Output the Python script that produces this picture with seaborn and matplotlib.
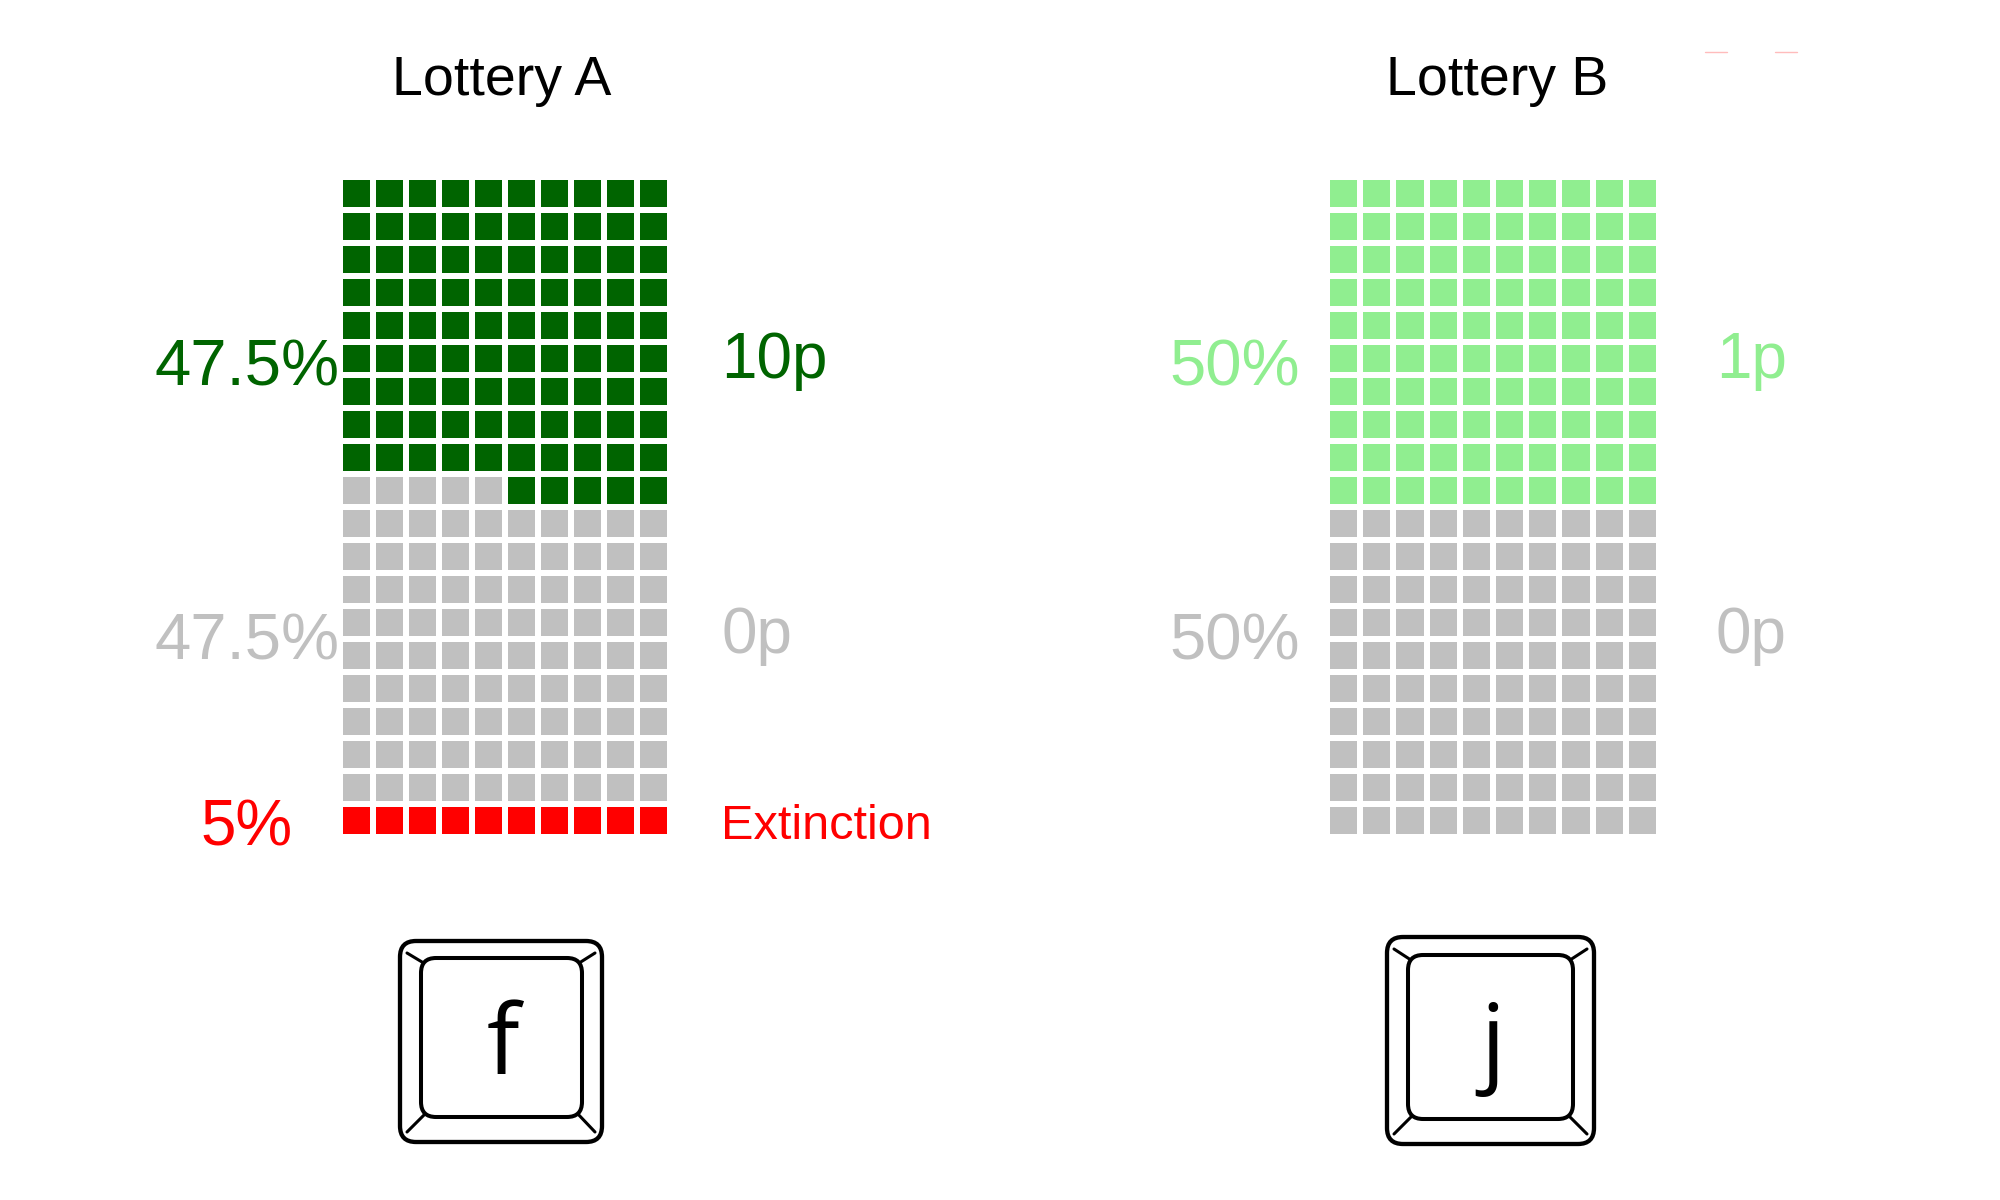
import numpy as np
import matplotlib
matplotlib.use("Agg")
import matplotlib.pyplot as plt
from matplotlib.colors import ListedColormap
from matplotlib.patches import FancyBboxPatch
import seaborn as sns

# ---------------- data ----------------
lottery_titles = ["Lottery A", "Lottery B"]
key_letters = ["f", "j"]

a_probs = ["47.5%", "47.5%", "5%"]
a_outcomes = ["10p", "0p", "Extinction"]
a_counts = [95, 95, 10]
a_colors = ["#006400", "#C0C0C0", "#FF0000"]

b_probs = ["50%", "50%"]
b_outcomes = ["1p", "0p"]
b_counts = [100, 100]
b_colors = ["#90EE90", "#C0C0C0"]

N_ROWS, N_COLS = 20, 10

# ---------------- setup ----------------
sns.set_theme(style="white")
plt.rcParams["font.family"] = ["Liberation Sans", "DejaVu Sans"]

W, H = 2000, 1200
fig = plt.figure(figsize=(20, 12), dpi=100)
fig.patch.set_facecolor("white")


def px_axes(x0, y0, x1, y1):
    return fig.add_axes([x0 / W, 1 - y1 / H, (x1 - x0) / W, (y1 - y0) / H])


def build_grid(counts):
    idx = np.arange(len(counts))[::-1]
    flat = np.repeat(idx, np.array(counts)[::-1])
    return flat.reshape(N_ROWS, N_COLS)[::-1]


panels = [
    dict(probs=a_probs, outcomes=a_outcomes, counts=a_counts, colors=a_colors,
         box=(340, 177, 670, 837)),
    dict(probs=b_probs, outcomes=b_outcomes, counts=b_counts, colors=b_colors,
         box=(1327, 177, 1659, 837)),
]

# layout for labels (pixel positions)
left_label_x = [247, 1235]
right_label_x = [721, 1716]
left_baselines = [385, 660, 845]
right_baselines = [378, 653, 839]
label_sizes = [46, 46, 35]
title_x = [502, 1497]
title_y = 95
key_boxes = [(400, 941, 602, 1142, 421, 958, 582, 1117),
             (1387, 937, 1594, 1144, 1408, 955, 1573, 1119)]

for p in panels:
    ax = px_axes(*p["box"])
    grid = build_grid(p["counts"])
    n = len(p["counts"])
    sns.heatmap(grid, ax=ax, cmap=ListedColormap(p["colors"]), vmin=-0.5, vmax=n - 0.5,
                cbar=False, linewidths=4, linecolor="white",
                xticklabels=False, yticklabels=False)
    ax.set_xlabel("")
    ax.set_ylabel("")
    for s in ax.spines.values():
        s.set_visible(False)

# overlay axes in pixel coordinates
ov = fig.add_axes([0, 0, 1, 1])
ov.set_xlim(0, W)
ov.set_ylim(H, 0)
ov.axis("off")

for i, p in enumerate(panels):
    ov.text(title_x[i], title_y, lottery_titles[i], fontsize=40, color="black",
            ha="center", va="baseline")
    for j, (pr, oc, col) in enumerate(zip(p["probs"], p["outcomes"], p["colors"])):
        ov.text(left_label_x[i], left_baselines[j], pr, fontsize=47 if j < 2 else 46,
                color=col, ha="center", va="baseline")
        ov.text(right_label_x[i], right_baselines[j], oc, fontsize=label_sizes[j],
                color=col, ha="left", va="baseline")

# keyboard keys
for i, (ox0, oy0, ox1, oy1, ix0, iy0, ix1, iy1) in enumerate(key_boxes):
    outer = FancyBboxPatch((ox0, oy0), ox1 - ox0, oy1 - oy0,
                           boxstyle="round,pad=0,rounding_size=16",
                           fc="white", ec="black", lw=3.1, zorder=2)
    inner = FancyBboxPatch((ix0, iy0), ix1 - ix0, iy1 - iy0,
                           boxstyle="round,pad=0,rounding_size=15",
                           fc="white", ec="black", lw=2.9, zorder=3)
    ov.add_patch(outer)
    ov.add_patch(inner)
    segs = [((ox0 + 7, oy0 + 12), (ix0 + 6, iy0 + 7)),
            ((ox1 - 7, oy0 + 12), (ix1 - 6, iy0 + 7)),
            ((ox0 + 7, oy1 - 10), (ix0 + 6, iy1 - 5)),
            ((ox1 - 7, oy1 - 10), (ix1 - 6, iy1 - 5))]
    for (xa, ya), (xb, yb) in segs:
        ov.plot([xa, xb], [ya, yb], color="black", lw=2.2, zorder=2.5,
                solid_capstyle="round")
    cx = (ox0 + ox1) / 2
    ov.text(cx + 2, 1074, key_letters[i], fontsize=70, color="black",
            ha="center", va="baseline", family=["Open Sans", "DejaVu Sans"], zorder=4)

# faint marks at top right
ov.plot([1705, 1727], [52, 52], color="#ffbcbc", lw=1)
ov.plot([1775, 1797], [52, 52], color="#ffbcbc", lw=1)

fig.savefig("out.png", dpi=100, facecolor="white")
